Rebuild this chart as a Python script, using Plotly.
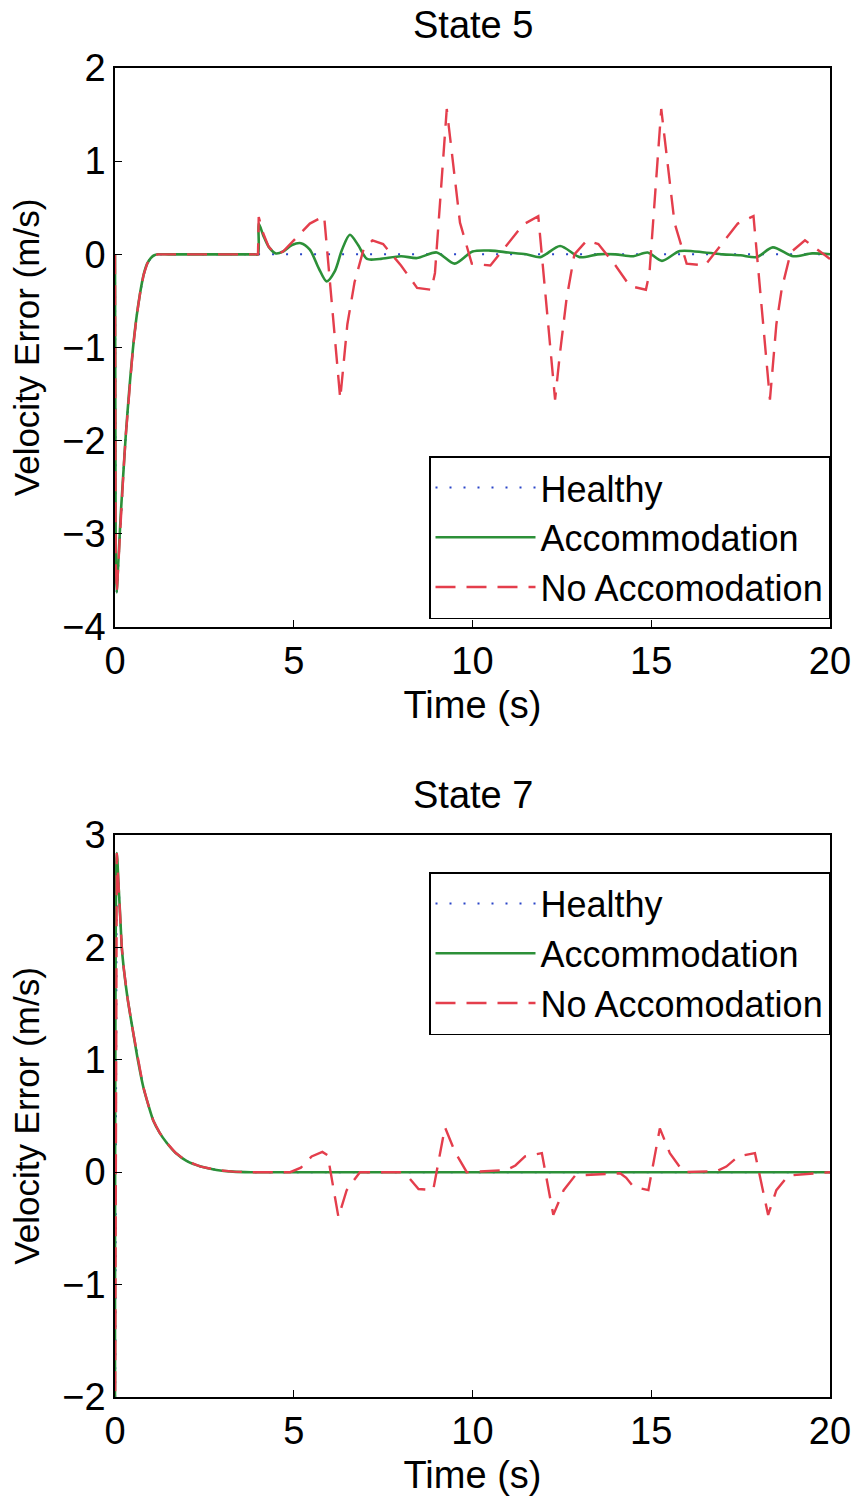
import plotly.graph_objects as go

# ---------------- State 5 ----------------
s5_t_start = [0, 0.02, 0.05, 0.08, 0.12, 0.16, 0.2, 0.25, 0.3, 0.4, 0.5, 0.6,
              0.7, 0.8, 0.9, 1.0, 1.1, 1.2, 1.5, 2.0, 2.5, 3.0, 3.5, 3.9, 4.0]
s5_v_start = [0, -3.3, -3.63, -3.4, -3.1, -2.8, -2.55, -2.25, -1.95, -1.45,
              -1.02, -0.68, -0.42, -0.22, -0.1, -0.04, -0.01, 0.0, 0.0, 0.0,
              0.0, 0.0, 0.0, 0.0, 0.0]

s5_healthy_t = s5_t_start + [20.0]
s5_healthy_v = s5_v_start + [0.0]

s5_acc_t = s5_t_start + [4.02, 4.15, 4.3, 4.5, 4.7, 4.95, 5.2, 5.45, 5.7, 5.92,
                         6.15, 6.35, 6.57, 6.8, 7.05, 7.4, 8.0, 8.45, 9.0, 9.5,
                         10.0, 10.5, 11.0, 11.5, 11.9, 12.45, 13.0, 13.5, 14.0,
                         14.5, 14.9, 15.3, 15.8, 16.5, 17.0, 17.5, 17.95, 18.4,
                         18.97, 19.5, 20.0]
s5_acc_v = s5_v_start + [0.33, 0.2, 0.08, 0.01, 0.03, 0.1, 0.12, 0.05, -0.15,
                         -0.29, -0.18, 0.05, 0.21, 0.1, -0.05, -0.05, -0.02,
                         -0.04, 0.02, -0.1, 0.03, 0.04, 0.02, 0.0, -0.03, 0.09,
                         -0.03, 0.0, 0.0, -0.02, 0.02, -0.07, 0.035, 0.02, 0.0,
                         -0.01, -0.03, 0.075, -0.02, 0.01, 0.0]

s5_noacc_t = s5_t_start + [4.02, 4.15, 4.3, 4.5, 4.7, 5.0, 5.45, 5.85, 6.3,
                           6.5, 6.7, 6.95, 7.2, 7.5, 8.0, 8.45, 8.85, 8.95,
                           9.28, 9.65, 9.98, 10.5, 11.0, 11.42, 11.84, 12.31,
                           12.45, 12.63, 12.85, 13.2, 13.52, 14.0, 14.4, 14.85,
                           14.95, 15.28, 15.65, 15.99, 16.5, 17.0, 17.42, 17.86,
                           18.32, 18.5, 18.65, 18.9, 19.3, 19.9, 20.0]
s5_noacc_v = s5_v_start + [0.4, 0.22, 0.08, 0.0, 0.03, 0.15, 0.33, 0.41, -1.55,
                           -0.75, -0.3, 0.05, 0.15, 0.11, -0.12, -0.36, -0.38,
                           -0.2, 1.56, 0.34, -0.1, -0.12, 0.12, 0.32, 0.41,
                           -1.56, -1.05, -0.48, 0.0, 0.15, 0.11, -0.12, -0.34,
                           -0.38, -0.2, 1.56, 0.34, -0.1, -0.12, 0.12, 0.33,
                           0.41, -1.56, -0.75, -0.37, 0.02, 0.15, -0.02, -0.05]

# ---------------- State 7 ----------------
s7_t_start = [0, 0.05, 0.1, 0.15, 0.19, 0.25, 0.35, 0.51, 0.65, 0.79, 0.93,
              1.07, 1.25, 1.45, 1.7, 2.0, 2.4, 2.84, 3.3, 3.8]
s7_v_start = [-2.5, 2.84, 2.55, 2.25, 2.0, 1.8, 1.55, 1.24, 0.98, 0.76, 0.6,
              0.46, 0.35, 0.26, 0.17, 0.1, 0.05, 0.02, 0.005, 0.0]

s7_healthy_t = s7_t_start + [20.0]
s7_healthy_v = s7_v_start + [0.0]

s7_acc_t = s7_t_start + [20.0]
s7_acc_v = s7_v_start + [0.0]

s7_noacc_t = s7_t_start + [4.9, 5.2, 5.5, 5.8, 5.95, 6.06, 6.25, 6.48, 6.85,
                           7.97, 8.25, 8.49, 8.9, 9.23, 9.51, 9.84, 10.96,
                           11.2, 11.47, 11.94, 12.26, 12.55, 12.87, 14.13,
                           14.3, 14.5, 14.92, 15.24, 15.52, 15.9, 16.83, 17.1,
                           17.43, 17.9, 18.27, 18.5, 18.83, 20.0]
s7_noacc_v = s7_v_start + [0.0, 0.04, 0.14, 0.18, 0.15, -0.04, -0.4, -0.16,
                           0.0, 0.0, -0.06, -0.15, -0.16, 0.4, 0.18, 0.0, 0.02,
                           0.06, 0.14, 0.17, -0.38, -0.16, -0.03, -0.01, -0.05,
                           -0.13, -0.16, 0.39, 0.17, 0.0, 0.01, 0.05, 0.14,
                           0.17, -0.38, -0.16, -0.03, 0.0]

x_ticks = [0, 5, 10, 15, 20]
s5_y_ticks = [-4, -3, -2, -1, 0, 1, 2]
s7_y_ticks = [-2, -1, 0, 1, 2, 3]

series_names = ["Healthy", "Accommodation", "No Accomodation"]

FONT = "Liberation Sans, Arial, sans-serif"
FS = 38
FS_YTITLE = 35
FS_LEG = 36
BLUE = "#2a45c8"
GREEN = "#2c9038"
RED = "#e43e4c"

styles = [
    dict(color=BLUE, width=2, dash="2px,12px"),
    dict(color=GREEN, width=2.6, dash="solid"),
    dict(color=RED, width=2.4, dash="20px,11px"),
]

fig = go.Figure()

panels = [
    ([(s5_healthy_t, s5_healthy_v), (s5_acc_t, s5_acc_v), (s5_noacc_t, s5_noacc_v)],
     "x", "y", "legend"),
    ([(s7_healthy_t, s7_healthy_v), (s7_acc_t, s7_acc_v), (s7_noacc_t, s7_noacc_v)],
     "x2", "y2", "legend2"),
]

for data, xa, ya, lg in panels:
    for (t, v), name, st in zip(data, series_names, styles):
        fig.add_trace(go.Scatter(
            x=t, y=v, mode="lines", name=name,
            line=dict(color=st["color"], width=st["width"], dash=st["dash"],
                      shape="spline" if name == "Accommodation" else "linear",
                      smoothing=0.8),
            xaxis=xa, yaxis=ya, legend=lg, showlegend=True,
        ))

axis_common = dict(
    showline=True, mirror=True, linecolor="black", linewidth=1.5,
    ticks="inside", ticklen=7, tickwidth=1.2, tickcolor="black",
    showgrid=False, zeroline=False, automargin=False,
    tickfont=dict(family=FONT, size=FS, color="black"),
)

top_dom = [0.5794, 1.0]
bot_dom = [0.0, 0.4229]

legend_common = dict(
    x=1.0, xanchor="right", xref="paper", yanchor="top", yref="paper",
    bgcolor="white", bordercolor="black", borderwidth=1.5,
    font=dict(family=FONT, size=FS_LEG, color="black"),
    itemwidth=100, tracegroupgap=0,
)

xtitle = dict(text="Time (s)", standoff=10, font=dict(family=FONT, size=FS))
ytitle = dict(text="Velocity Error (m/s)", standoff=12,
              font=dict(family=FONT, size=FS_YTITLE))

fig.update_layout(
    width=856, height=1500,
    margin=dict(l=115, r=26, t=68, b=103),
    paper_bgcolor="white", plot_bgcolor="white",
    font=dict(family=FONT, size=FS, color="black"),
    xaxis=dict(axis_common, domain=[0, 1], range=[0, 20], tickvals=x_ticks,
               anchor="y", title=xtitle),
    yaxis=dict(axis_common, domain=top_dom, range=[-4, 2], tickvals=s5_y_ticks,
               anchor="x", title=ytitle),
    xaxis2=dict(axis_common, domain=[0, 1], range=[0, 20], tickvals=x_ticks,
                anchor="y2", title=xtitle),
    yaxis2=dict(axis_common, domain=bot_dom, range=[-2, 3], tickvals=s7_y_ticks,
                anchor="x2", title=ytitle),
    legend=dict(legend_common, y=0.708),
    legend2=dict(legend_common, y=0.395),
    annotations=[
        dict(text="State 5", x=0.5, y=1.0323, xref="paper", yref="paper",
             showarrow=False, font=dict(family=FONT, size=FS),
             xanchor="center", yanchor="middle"),
        dict(text="State 7", x=0.5, y=0.4530, xref="paper", yref="paper",
             showarrow=False, font=dict(family=FONT, size=FS),
             xanchor="center", yanchor="middle"),
    ],
)

fig.write_html("out.html")
